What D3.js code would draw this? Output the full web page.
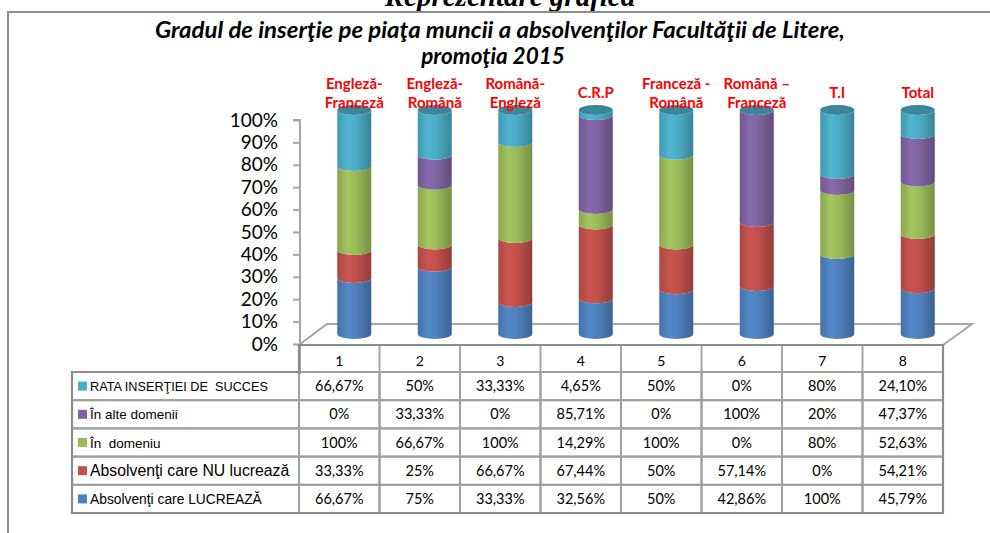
<!DOCTYPE html>
<html><head><meta charset="utf-8">
<script src="https://cdn.jsdelivr.net/npm/d3@7"></script>
<style>body{margin:0;background:#fff;} svg{display:block;}</style>
</head><body>
<svg id="chart" width="990" height="533"></svg>
<script>
// ---------- data ----------
const categories = ["Engleză-\nFranceză","Engleză-\nRomână","Română-\nEngleză","C.R.P","Franceză -\nRomână","Română –\nFranceză","T.I","Total"];
const columnNumbers = ["1","2","3","4","5","6","7","8"];
const seriesNames = ["Absolvenţi care LUCREAZĂ","Absolvenţi care NU lucrează","În  domeniu","În alte domenii","RATA INSERŢIEI DE  SUCCES"];
const lucreaza    = [66.67, 75, 33.33, 32.56, 50, 42.86, 100, 45.79];
const nuLucreaza  = [33.33, 25, 66.67, 67.44, 50, 57.14, 0, 54.21];
const inDomeniu   = [100, 66.67, 100, 14.29, 100, 0, 80, 52.63];
const alteDomenii = [0, 33.33, 0, 85.71, 0, 100, 20, 47.37];
const rata        = [66.67, 50, 33.33, 4.65, 50, 0, 80, 24.10];
const yTicks = [0,0.1,0.2,0.3,0.4,0.5,0.6,0.7,0.8,0.9,1];

const seriesValues = [lucreaza, nuLucreaza, inDomeniu, alteDomenii, rata];
const colors = ["#4f81bd","#c0504d","#9bbb59","#8064a2","#4bacc6"];
const legendFontSizes = [13.8, 15.8, 13.5, 13.5, 12.7];

const svg = d3.select("#chart");
const defs = svg.append("defs");
colors.forEach((c,i)=>{
  const g = defs.append("linearGradient").attr("id","g"+i).attr("x1","0").attr("x2","1").attr("y1","0").attr("y2","0");
  const base = d3.color(c);
  [[0, base.darker(0.35)],[0.3, base.brighter(0.15)],[0.55, base],[1, base.darker(0.75)]].forEach(([o,col])=>{
    g.append("stop").attr("offset",o).attr("stop-color",col.formatHex());
  });
});

// ---------- scales ----------
const x = d3.scaleBand().domain(columnNumbers).range([299, 943]).padding(0);
const y = d3.scaleLinear().domain([0,1]).range([344,120]);
const depthX = 15, depthY = -10, rx = 17, ry = 5;

// ---------- outer frame and top heading ----------
svg.append("text").attr("x",510).attr("y",6).attr("text-anchor","middle")
  .attr("font-family","Liberation Serif").attr("font-weight","bold").attr("font-style","italic")
  .attr("font-size",29).text("Reprezentare grafică");
svg.append("path").attr("d","M8,540 L8,12 L995,12").attr("fill","none").attr("stroke","#8c8c8c").attr("stroke-width",2);

// ---------- title ----------
const title = svg.append("g").attr("font-family","Lato").attr("font-weight","bold").attr("font-style","italic").attr("font-size",22.5).attr("text-anchor","middle");
title.append("text").attr("x",500).attr("y",38).attr("textLength",690).attr("lengthAdjust","spacingAndGlyphs")
  .text("Gradul de inserţie pe piaţa muncii a absolvenţilor Facultăţii de Litere,");
title.append("text").attr("x",493).attr("y",64).text("promoţia 2015");

// ---------- floor ----------
const x0 = x.range()[0], x1 = x.range()[1], yb = y(0);
svg.append("path")
  .attr("d",`M${x0},${yb+1} L${x1},${yb+1} L${x1+29},${yb-20} L${x0+28},${yb-20} Z`)
  .attr("fill","#fff").attr("stroke","#a6a6a6").attr("stroke-width",2);

// ---------- y axis ----------
const yAxis = d3.axisLeft(y).tickValues(yTicks).tickFormat(d3.format(".0%")).tickSize(7).tickPadding(15);
const ya = svg.append("g").attr("transform",`translate(${x0+1},0)`).call(yAxis);
ya.select(".domain").attr("stroke","#a6a6a6").attr("stroke-width",2).attr("d",`M-7,${y(1)}H0V${yb+30}`);
ya.selectAll(".tick line").attr("stroke","#a6a6a6").attr("stroke-width",2);
ya.selectAll(".tick text").attr("font-family","Lato").attr("font-size",19).attr("fill","#000");

// ---------- cylinders ----------
function seg(cx, yTop, yBot){
  return `M${cx-rx},${yTop} L${cx-rx},${yBot} A${rx},${ry} 0 0 0 ${cx+rx},${yBot} L${cx+rx},${yTop} A${rx},${ry} 0 0 1 ${cx-rx},${yTop} Z`;
}
const cyl = svg.append("g");
columnNumbers.forEach((c,j)=>{
  const total = d3.sum(seriesValues, s=>s[j]);
  const cx = x(c) + x.bandwidth()/2 + depthX;
  let acc = 0;
  seriesValues.forEach((s,i)=>{
    const v = s[j]/total;
    if (v > 0) {
      const yB = y(acc) + depthY, yT = y(acc+v) + depthY;
      cyl.append("path").attr("d", seg(cx, yT, yB)).attr("fill","url(#g"+i+")");
    }
    acc += v;
  });
  cyl.append("ellipse").attr("cx",cx).attr("cy",y(1)+depthY).attr("rx",rx).attr("ry",ry)
    .attr("fill", d3.color(colors[4]).darker(0.7).formatHex());
});

// ---------- category labels ----------
const lab = svg.append("g").attr("font-family","Lato").attr("font-weight","bold").attr("font-size",15).attr("fill","#ff0000").attr("text-anchor","middle");
categories.forEach((c,j)=>{
  const lines = c.split("\n");
  const cx = x(columnNumbers[j]) + x.bandwidth()/2 + depthX;
  const t = lab.append("text").attr("x",cx).attr("y", lines.length>1 ? 89 : 98);
  lines.forEach((l,k)=>t.append("tspan").attr("x",cx).attr("dy",k?19:0).text(l));
});

// ---------- data table ----------
const rowsTop = 372, rowH = 28.2, legendX = 72;
const tableRows = seriesValues.map((s,i)=>({name:seriesNames[i], vals:s, color:colors[i], fs:legendFontSizes[i]})).reverse();
const fmt = v => (Number.isInteger(v) ? v : v.toFixed(2).replace(".",",")) + "%";
const tbl = svg.append("g");
const lineCol = "#a0a0a0";
// header
columnNumbers.forEach(c=>{
  tbl.append("rect").attr("x",x(c)).attr("y",yb+1).attr("width",x.bandwidth()).attr("height",rowsTop-yb-1)
    .attr("fill","none").attr("stroke",lineCol).attr("stroke-width",1.5);
  tbl.append("text").attr("x",x(c)+x.bandwidth()/2).attr("y",rowsTop-6).attr("text-anchor","middle")
    .attr("font-family","Lato").attr("font-size",14).text(c);
});
tableRows.forEach((r,i)=>{
  const ry0 = rowsTop + i*rowH;
  tbl.append("rect").attr("x",legendX).attr("y",ry0).attr("width",x0-legendX).attr("height",rowH)
    .attr("fill","none").attr("stroke",lineCol).attr("stroke-width",2);
  tbl.append("rect").attr("x",legendX+6).attr("y",ry0+rowH/2-4.5).attr("width",9).attr("height",9).attr("fill",r.color);
  tbl.append("text").attr("x",legendX+18).attr("y",ry0+rowH/2+5).attr("font-family","Liberation Sans")
    .attr("font-size", r.fs).style("white-space","pre").text(r.name);
  columnNumbers.forEach((c,j)=>{
    tbl.append("rect").attr("x",x(c)).attr("y",ry0).attr("width",x.bandwidth()).attr("height",rowH)
      .attr("fill","none").attr("stroke",lineCol).attr("stroke-width",2);
    tbl.append("text").attr("x",x(c)+x.bandwidth()/2).attr("y",ry0+rowH/2+5).attr("text-anchor","middle")
      .attr("font-family","Lato").attr("font-size",14.5).text(fmt(r.vals[j]));
  });
});
// table outer border (slightly heavier)
tbl.append("path").attr("d",`M${legendX},${rowsTop} H${x0} V${yb+1} H${x1} V${rowsTop+5*rowH} H${legendX} Z`)
  .attr("fill","none").attr("stroke","#8c8c8c").attr("stroke-width",2.2);
</script>
</body></html>
